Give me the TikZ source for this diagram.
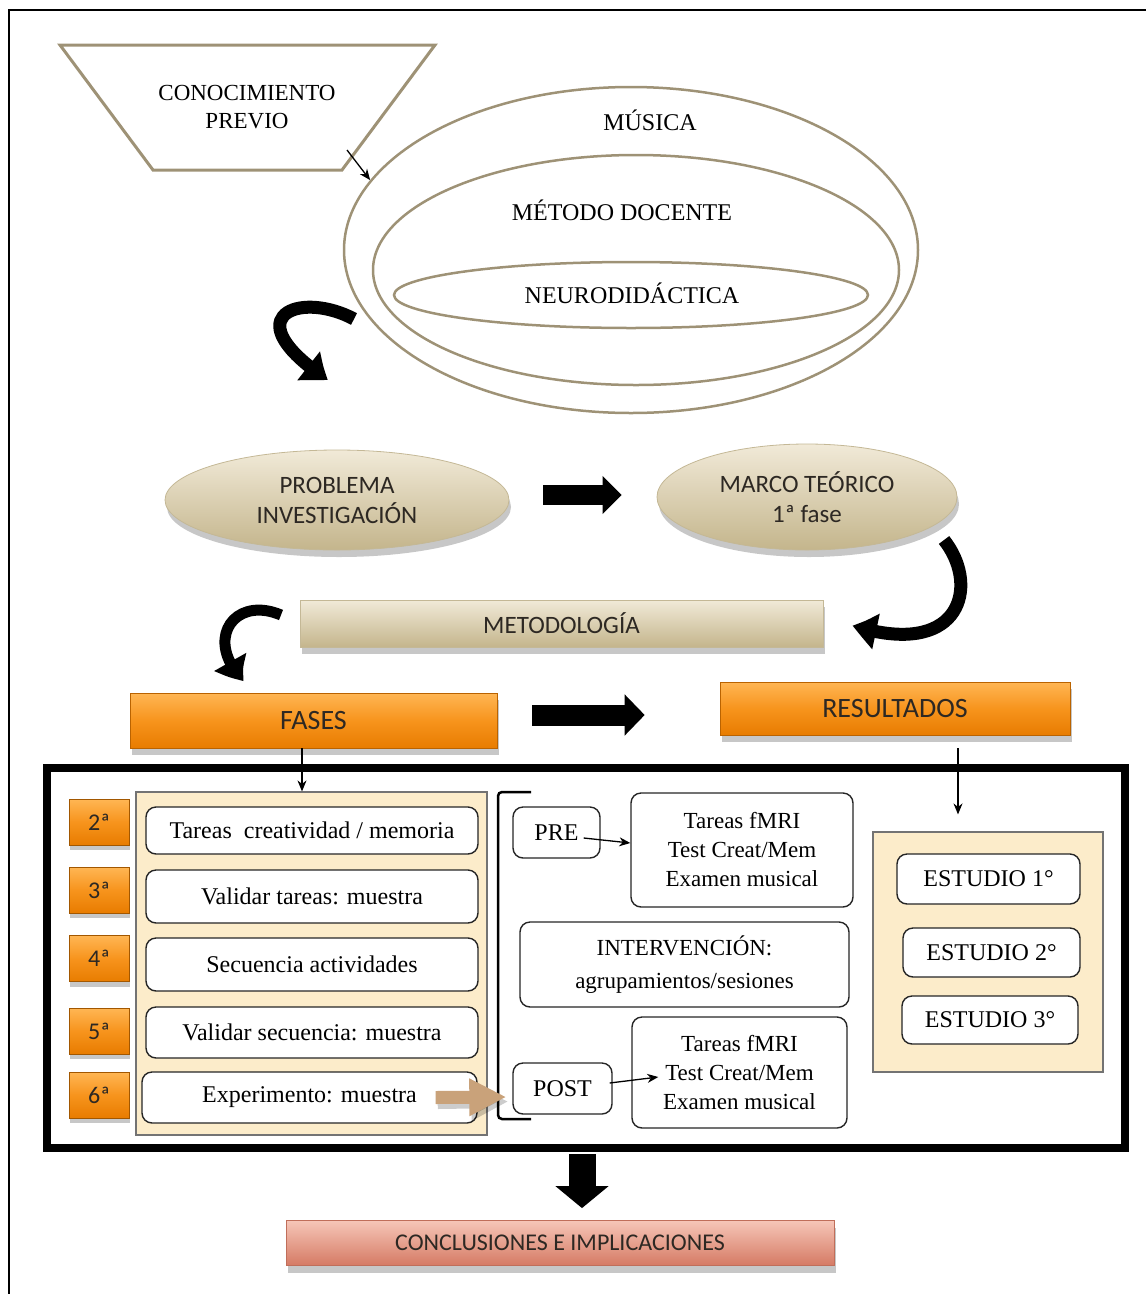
\documentclass[tikz,border=0pt]{standalone}
\usepackage{fontspec}
\setmainfont{Liberation Serif}
\newfontfamily\calib{Carlito}
\usetikzlibrary{shapes.geometric,arrows.meta,shadows,bending}

\definecolor{taupec}{RGB}{158,146,118}
\definecolor{khtop}{RGB}{241,234,216}
\definecolor{khbot}{RGB}{196,181,140}
\definecolor{khline}{RGB}{196,184,150}
\definecolor{ortop}{RGB}{255,182,84}
\definecolor{ormid}{RGB}{247,148,29}
\definecolor{orbot}{RGB}{232,124,0}
\definecolor{cream}{RGB}{252,236,202}
\definecolor{tanar}{RGB}{201,162,122}
\definecolor{rtop}{RGB}{246,198,184}
\definecolor{rbot}{RGB}{213,122,100}
\definecolor{sanstxt}{RGB}{45,40,35}

\begin{document}
\begin{tikzpicture}[x=1pt,y=-1pt,
  serif/.style 2 args={font=\fontsize{#1}{#2}\selectfont},
  sans/.style 2 args={font=\calib\fontsize{#1}{#2}\selectfont, text=sanstxt},
  softshadow/.style={drop shadow={shadow xshift=2pt, shadow yshift=-7pt, opacity=0.22, fill=black}},
  ring/.style={ellipse, draw=taupec, line width=2.5pt, inner sep=0pt},
  oval/.style={ellipse, draw=khline, line width=0.8pt, top color=khtop, bottom color=khbot,
    softshadow, align=center, inner sep=0pt, sans={25}{30}},
  khbar/.style={rectangle, draw=khline, line width=1pt, top color=khtop, bottom color=khbot,
    softshadow, inner sep=0pt, sans={25}{30}},
  orbar/.style={rectangle, draw=orbot!80!black, line width=0.6pt, top color=ortop, bottom color=orbot,
    middle color=ormid, softshadow, inner sep=0pt, sans={28}{32}},
  tag/.style={rectangle, draw=orbot!70!black, line width=0.6pt, top color=ortop, bottom color=orbot,
    middle color=ormid, drop shadow={shadow xshift=1pt, shadow yshift=-5pt, opacity=0.22, fill=black},
    minimum width=60pt, minimum height=46pt, inner sep=0pt, sans={24}{28}},
  panel/.style={rectangle, draw=black!55, line width=1.2pt, fill=cream, inner sep=0pt},
  rbox/.style={rectangle, rounded corners=10pt, draw=black!85, line width=1.4pt, fill=white,
    inner sep=0pt, align=center, serif={24}{29}},
  thinarrow/.style={line width=1.3pt, -{Stealth[length=11pt,width=9pt]}},
  blockarrow/.style={line width=20pt, -{Triangle[length=19pt,width=37pt]}},
  curlarrow/.style={line width=13pt, -{Triangle[length=25pt,width=34pt,bend]}},
]
\useasboundingbox (0,0) rectangle (1146,1294);

% page rule
\draw[line width=2.5pt] (1146,10) -- (9,10) -- (9,1294);

% prior knowledge funnel
\draw[taupec, line width=3pt, line join=miter] (60,45) -- (435,45) -- (342,170) -- (153,170) -- cycle;
\node[serif={23}{28}, align=center] (prev) at (247,107) {CONOCIMIENTO\\PREVIO};
\coordinate (prevtip) at (347,150);

% nested domains
\node[ring, minimum width=574pt, minimum height=326pt] (mus) at (631,250) {};
\node[ring, minimum width=526pt, minimum height=230pt] (met) at (636,270) {};
\node[ring, minimum width=474pt, minimum height=66pt] (neu) at (631,295) {};
\node[serif={24}{28}] (musl) at (650,120) {MÚSICA};
\node[serif={24}{28}] (metl) at (622,210) {MÉTODO DOCENTE};
\node[serif={24}{28}] (neul) at (632,293) {NEURODIDÁCTICA};
\draw[thinarrow] (prevtip) -- (mus.165);

% curled arrow towards the research problem
\coordinate (c1s) at (354,319);
\coordinate (c1e) at (328,380);
\draw[curlarrow] (c1s) .. controls (300,290) and (232,316) .. (c1e);

% research problem and theoretical frame
\node[oval, minimum width=344pt, minimum height=100pt] (prob) at (337,500) {PROBLEMA\\INVESTIGACIÓN};
\node[oval, minimum width=300pt, minimum height=106pt] (marco) at (807,497) {MARCO TEÓRICO\\1ª fase};
\draw[blockarrow] ([xshift=34pt,yshift=5pt]prob.east) -- ([xshift=-35pt,yshift=2pt]marco.west);

% methodology
\node[khbar, minimum width=523pt, minimum height=47pt] (metod) at (561.5,623.5) {METODOLOGÍA};
\coordinate (c2s) at (944,540);
\draw[curlarrow] (c2s) .. controls (980,585) and (962,660) .. ([xshift=29pt,yshift=-2pt]metod.east);
\coordinate (c3s) at (281,615);
\coordinate (c3e) at (244,681);
\draw[curlarrow, line width=11pt] (c3s) .. controls (234,595) and (203,640) .. (c3e);

% phases and results
\node[orbar, minimum width=367pt, minimum height=55pt] (fases) at (313.5,720.5) {FASES};
\node[orbar, minimum width=350pt, minimum height=53pt] (result) at (895,708.5) {RESULTADOS};
\draw[blockarrow, line width=21pt, -{Triangle[length=20pt,width=40pt]}]
  ([xshift=35pt,yshift=5.5pt]fases.east) -- ([xshift=-75pt,yshift=-6.5pt]result.west);

% study frame
\node[draw, line width=8pt, minimum width=1078pt, minimum height=380pt, inner sep=0pt] (frame) at (586,958) {};

% phases panel
\node[panel, minimum width=351pt, minimum height=343pt] (lbox) at (311.5,963.5) {};
\node[rbox, minimum width=332pt, minimum height=47pt] (t1) at (312,830.5) {Tareas\ \ creatividad / memoria};
\node[rbox, minimum width=332pt, minimum height=53pt] (t2) at (312,896.5) {Validar tareas: muestra};
\node[rbox, minimum width=332pt, minimum height=53pt] (t3) at (312,964.5) {Secuencia actividades};
\node[rbox, minimum width=332pt, minimum height=51pt] (t4) at (312,1032.5) {Validar secuencia: muestra};
\node[rbox, minimum width=335pt, minimum height=51pt] (t5) at (309.5,1097.5) {Experimento: muestra};

\node[tag] (n2) at (99,822) {2ª};
\node[tag] (n3) at (99,890) {3ª};
\node[tag] (n4) at (99,958.5) {4ª};
\node[tag] (n5) at (99,1031) {5ª};
\node[tag] (n6) at (99,1095) {6ª};

\draw[thinarrow] ([xshift=-11.5pt]fases.south) -- ([xshift=-9.5pt]lbox.north);

% bracket around the experiment
\coordinate (brt) at (531,792);
\coordinate (brb) at (531,1119);
\draw[line width=2.5pt, rounded corners=4pt] (brt) -- (498,792) -- (498,1119) -- (brb);

% pre / intervention / post
\node[rbox, minimum width=87pt, minimum height=51pt] (pre) at (556.5,832.5) {PRE};
\node[rbox, minimum width=222pt, minimum height=114pt, serif={23}{29}] (tpre) at (742,850)
  {Tareas fMRI\\Test Creat/Mem\\Examen musical};
\node[rbox, minimum width=329pt, minimum height=85pt, serif={23}{33}] (interv) at (684.5,964.5)
  {INTERVENCIÓN:\\agrupamientos/sesiones};
\node[rbox, minimum width=99pt, minimum height=51pt] (post) at (562.5,1088.5) {POST};
\node[rbox, minimum width=215pt, minimum height=111pt, serif={23}{29}] (tpost) at (739.5,1072.5)
  {Tareas fMRI\\Test Creat/Mem\\Examen musical};
\draw[thinarrow] ([xshift=-17pt,yshift=-5.5pt]pre.east) -- ([yshift=7pt]tpre.west);
\draw[thinarrow] ([xshift=-3pt,yshift=5.5pt]post.east) -- ([xshift=27pt,yshift=-4.5pt]tpost.west);

% experiment feeds the post-test
\draw[line width=13pt, black, opacity=0.2, -{Triangle[length=37pt,width=35pt]}]
  ([xshift=-40pt,yshift=-5pt]t5.east) -- ([xshift=-4pt,yshift=-13pt]post.west);
\draw[line width=13pt, tanar, -{Triangle[length=37pt,width=35pt]}]
  ([xshift=-42pt]t5.east) -- ([xshift=-6pt,yshift=-8.5pt]post.west);

% studies panel
\node[panel, minimum width=230pt, minimum height=240pt] (rpan) at (988,952) {};
\node[rbox, minimum width=183pt, minimum height=50pt] (e1) at (988.5,879) {ESTUDIO 1°};
\node[rbox, minimum width=177pt, minimum height=49pt] (e2) at (991.5,952.5) {ESTUDIO 2°};
\node[rbox, minimum width=176pt, minimum height=48pt] (e3) at (990,1020) {ESTUDIO 3°};
\draw[thinarrow] ([xshift=63pt,yshift=-13pt]result.south) -- ([xshift=-30pt,yshift=17pt]rpan.north);

% conclusions
\node[rectangle, draw=rbot!90!black, line width=0.8pt, top color=rtop, bottom color=rbot,
  softshadow, minimum width=548pt, minimum height=45pt, inner sep=0pt, sans={24}{28}]
  (concl) at (560,1243) {CONCLUSIONES E IMPLICACIONES};
\draw[line width=27pt, -{Triangle[length=22pt,width=52pt]}]
  ([xshift=-4pt,yshift=-2pt]frame.south) -- ([xshift=22pt,yshift=12pt]concl.north);
\end{tikzpicture}
\end{document}
